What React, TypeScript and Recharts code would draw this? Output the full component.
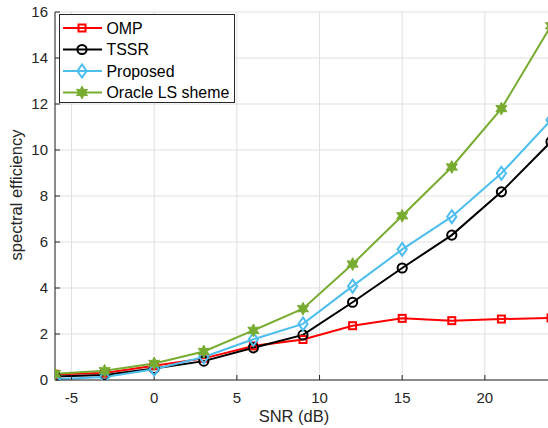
import React from 'react';
import { LineChart, Line, XAxis, YAxis, CartesianGrid, Legend } from 'recharts';

// SNR sweep (dB) and spectral efficiency of each scheme
const snr = [-6, -3, 0, 3, 6, 9, 12, 15, 18, 21, 24];
const omp = [0.25, 0.3, 0.62, 0.94, 1.48, 1.76, 2.36, 2.68, 2.58, 2.65, 2.7];
const tssr = [0.15, 0.22, 0.5, 0.82, 1.4, 1.96, 3.38, 4.87, 6.3, 8.18, 10.36];
const proposed = [0.03, 0.13, 0.47, 1.0, 1.77, 2.44, 4.08, 5.68, 7.1, 8.99, 11.3];
const oracle = [0.27, 0.4, 0.72, 1.24, 2.16, 3.1, 5.04, 7.14, 9.26, 11.8, 15.4];

const xTicks = [-5, 0, 5, 10, 15, 20];
const yTicks = [0, 2, 4, 6, 8, 10, 12, 14, 16];

const data = snr.map((s, i) => ({
  snr: s,
  omp: omp[i],
  tssr: tssr[i],
  proposed: proposed[i],
  oracle: oracle[i],
}));

const FONT = '"Liberation Sans", Arial, Helvetica, sans-serif';
const INK = '#262626';
const GRID = '#e0e0e0';

const RED = '#ff0000';
const BLACK = '#000000';
const BLUE = '#4dbeee';
const GREEN = '#77ac30';

type MarkerProps = { cx: number; cy: number; color: string };

const SquareMarker = ({ cx, cy, color }: MarkerProps) => (
  <rect x={cx - 3.5} y={cy - 3.5} width={7} height={7} fill="none" stroke={color} strokeWidth={2} />
);

const CircleMarker = ({ cx, cy, color }: MarkerProps) => (
  <circle cx={cx} cy={cy} r={4.6} fill="none" stroke={color} strokeWidth={2} />
);

const DiamondMarker = ({ cx, cy, color }: MarkerProps) => (
  <polygon
    points={`${cx},${cy - 6.5} ${cx + 4.6},${cy} ${cx},${cy + 6.5} ${cx - 4.6},${cy}`}
    fill="none"
    stroke={color}
    strokeWidth={2}
  />
);

const StarMarker = ({ cx, cy, color }: MarkerProps) => {
  const pts: string[] = [];
  for (let k = 0; k < 12; k++) {
    const r = k % 2 === 0 ? 6.4 : 3.4;
    const a = (Math.PI / 6) * k - Math.PI / 2;
    pts.push(`${cx + r * Math.cos(a)},${cy + r * Math.sin(a)}`);
  }
  return <polygon points={pts.join(' ')} fill={color} stroke={color} strokeWidth={1} />;
};

const markerFor: Record<string, (p: MarkerProps) => React.ReactElement> = {
  omp: SquareMarker,
  tssr: CircleMarker,
  proposed: DiamondMarker,
  oracle: StarMarker,
};

const makeDot = (key: string, color: string) => (props: any) => {
  const M = markerFor[key];
  if (props.cx == null || props.cy == null) return <g key={`${key}-${props.index}`} />;
  return (
    <g key={`${key}-${props.index}`}>
      <M cx={props.cx} cy={props.cy} color={color} />
    </g>
  );
};

const series = [
  { key: 'omp', name: 'OMP', color: RED },
  { key: 'tssr', name: 'TSSR', color: BLACK },
  { key: 'proposed', name: 'Proposed', color: BLUE },
  { key: 'oracle', name: 'Oracle LS sheme', color: GREEN },
];

const seriesOrder = series.map((s) => s.key);

const LegendBox = (props: any) => {
  const payload = [...(props.payload || [])].sort(
    (a: any, b: any) => seriesOrder.indexOf(a.dataKey) - seriesOrder.indexOf(b.dataKey)
  );
  const rowGap = 21.5;
  const w = 176;
  const h = 89;
  return (
    <svg width={w} height={h} style={{ display: 'block' }}>
      <rect x={0.5} y={0.5} width={w - 1} height={h - 1} fill="#ffffff" stroke={INK} strokeWidth={1} />
      {payload.map((item: any, i: number) => {
        const y = 14 + i * rowGap;
        const M = markerFor[item.dataKey];
        return (
          <g key={item.dataKey}>
            <line x1={4} y1={y} x2={43} y2={y} stroke={item.color} strokeWidth={2} />
            <M cx={23} cy={y} color={item.color} />
            <text x={47.5} y={y} dy="0.35em" fontFamily={FONT} fontSize={15.9} fill="#000000">
              {item.value}
            </text>
          </g>
        );
      })}
    </svg>
  );
};

export default function App() {
  return (
    <div
      style={{
        position: 'absolute',
        left: 0,
        top: 0,
        width: 548,
        height: 428,
        overflow: 'hidden',
        background: '#ffffff',
      }}
    >
      <LineChart width={556} height={428} data={data} margin={{ top: 12, right: 5, bottom: 0, left: 0 }}>
        <CartesianGrid stroke={GRID} strokeWidth={1} />
        <XAxis
          dataKey="snr"
          type="number"
          domain={[-6, 24]}
          ticks={xTicks}
          allowDataOverflow
          height={48}
          axisLine={{ stroke: INK, strokeWidth: 1 }}
          tickLine={{ stroke: INK }}
          tickSize={-5}
          tickMargin={17}
          tick={{ fill: INK, fontFamily: FONT, fontSize: 15 }}
          label={{
            content: () => (
              <text x={294} y={422} textAnchor="middle" fontFamily={FONT} fontSize={16.5} fill={INK}>
                SNR (dB)
              </text>
            ),
          }}
        />
        <XAxis
          xAxisId="top"
          orientation="top"
          dataKey="snr"
          type="number"
          domain={[-6, 24]}
          ticks={xTicks}
          allowDataOverflow
          height={0}
          axisLine={{ stroke: INK, strokeWidth: 1 }}
          tickLine={{ stroke: INK }}
          tickSize={-5}
          tick={false}
        />
        <YAxis
          type="number"
          domain={[0, 16]}
          ticks={yTicks}
          allowDataOverflow
          width={55}
          axisLine={{ stroke: INK, strokeWidth: 1 }}
          tickLine={{ stroke: INK }}
          tickSize={-5}
          tickMargin={12}
          tick={{ fill: INK, fontFamily: FONT, fontSize: 15 }}
          label={{
            content: () => (
              <text
                x={21.5}
                y={195}
                transform="rotate(-90 21.5 195)"
                textAnchor="middle"
                fontFamily={FONT}
                fontSize={16.5}
                fill={INK}
              >
                spectral efficiency
              </text>
            ),
          }}
        />
        <Legend
          layout="vertical"
          align="center"
          verticalAlign="middle"
          wrapperStyle={{ position: 'absolute', left: 59, top: 14, width: 176, height: 89 }}
          content={LegendBox}
        />
        {series.map((s) => (
          <Line
            key={s.key}
            dataKey={s.key}
            name={s.name}
            stroke={s.color}
            strokeWidth={2}
            type="linear"
            dot={makeDot(s.key, s.color)}
            activeDot={false}
            isAnimationActive={false}
          />
        ))}
      </LineChart>
    </div>
  );
}
